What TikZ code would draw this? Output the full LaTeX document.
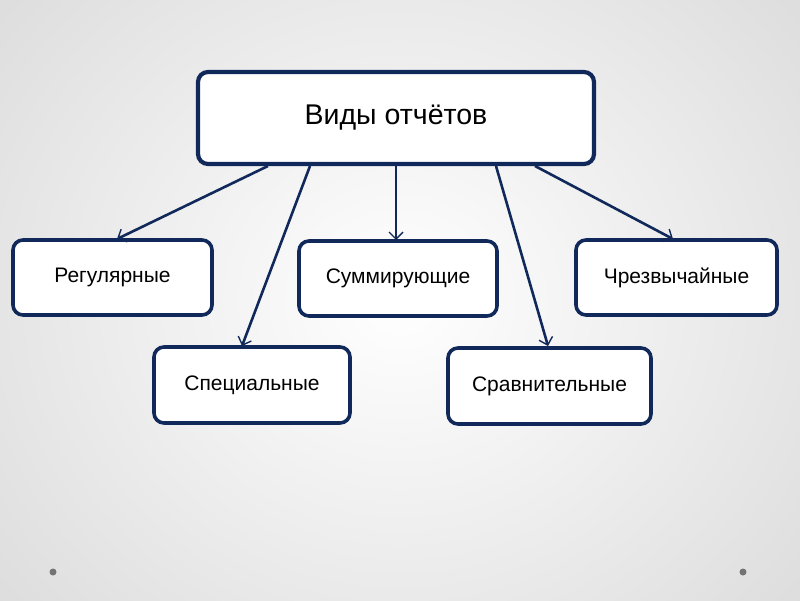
\documentclass[tikz,border=0pt]{standalone}
\usepackage{fontspec}
\setmainfont{Liberation Sans}
\usetikzlibrary{arrows.meta}
\definecolor{navy}{HTML}{10295A}
\begin{document}
\begin{tikzpicture}[x=1pt,y=-1pt,
  box/.style={draw=navy,line width=3.6pt,rounded corners=10pt,fill=white,font=\fontsize{21}{24}\selectfont},
  conn/.style={draw=navy,line width=2.6pt,-{Straight Barb[length=7pt,width=14pt,line width=1.4pt]}}]
\useasboundingbox (0,0) rectangle (800,600);
\begin{scope}
\clip (0,0) rectangle (800,600);
\shade[inner color=white,outer color=black!14] (-150,-200) rectangle (950,800);
\end{scope}
\node[box,minimum width=396pt,minimum height=92pt,line width=4.2pt,font=\fontsize{28.5}{32}\selectfont] (top) at (396,118) {Виды отчётов};
\node[box,minimum width=199pt,minimum height=75pt] (reg) at (112.5,277.5) {Регулярные};
\node[box,minimum width=198pt,minimum height=75pt] (sum) at (398,278.5) {Суммирующие};
\node[box,minimum width=201pt,minimum height=75pt] (chr) at (676.5,277.5) {Чрезвычайные};
\node[box,minimum width=196pt,minimum height=76pt] (spe) at (252,385) {Специальные};
\node[box,minimum width=203pt,minimum height=76pt] (srv) at (549.5,386) {Сравнительные};
\coordinate (a1) at (268,166); \coordinate (a2) at (310,166); \coordinate (a3) at (396,166);
\coordinate (a4) at (496,166); \coordinate (a5) at (535,166);
\coordinate (b1) at (117,239); \coordinate (b2) at (242,346); \coordinate (b3) at (396,240);
\coordinate (b4) at (548,346); \coordinate (b5) at (673,239);
\draw[conn] (a1) -- (b1);
\draw[conn] (a2) -- (b2);
\draw[conn] (a3) -- (b3);
\draw[conn] (a4) -- (b4);
\draw[conn] (a5) -- (b5);
\fill[black!55] (53,572) circle (3.5pt);
\fill[black!55] (743,572) circle (3.5pt);
\end{tikzpicture}
\end{document}
